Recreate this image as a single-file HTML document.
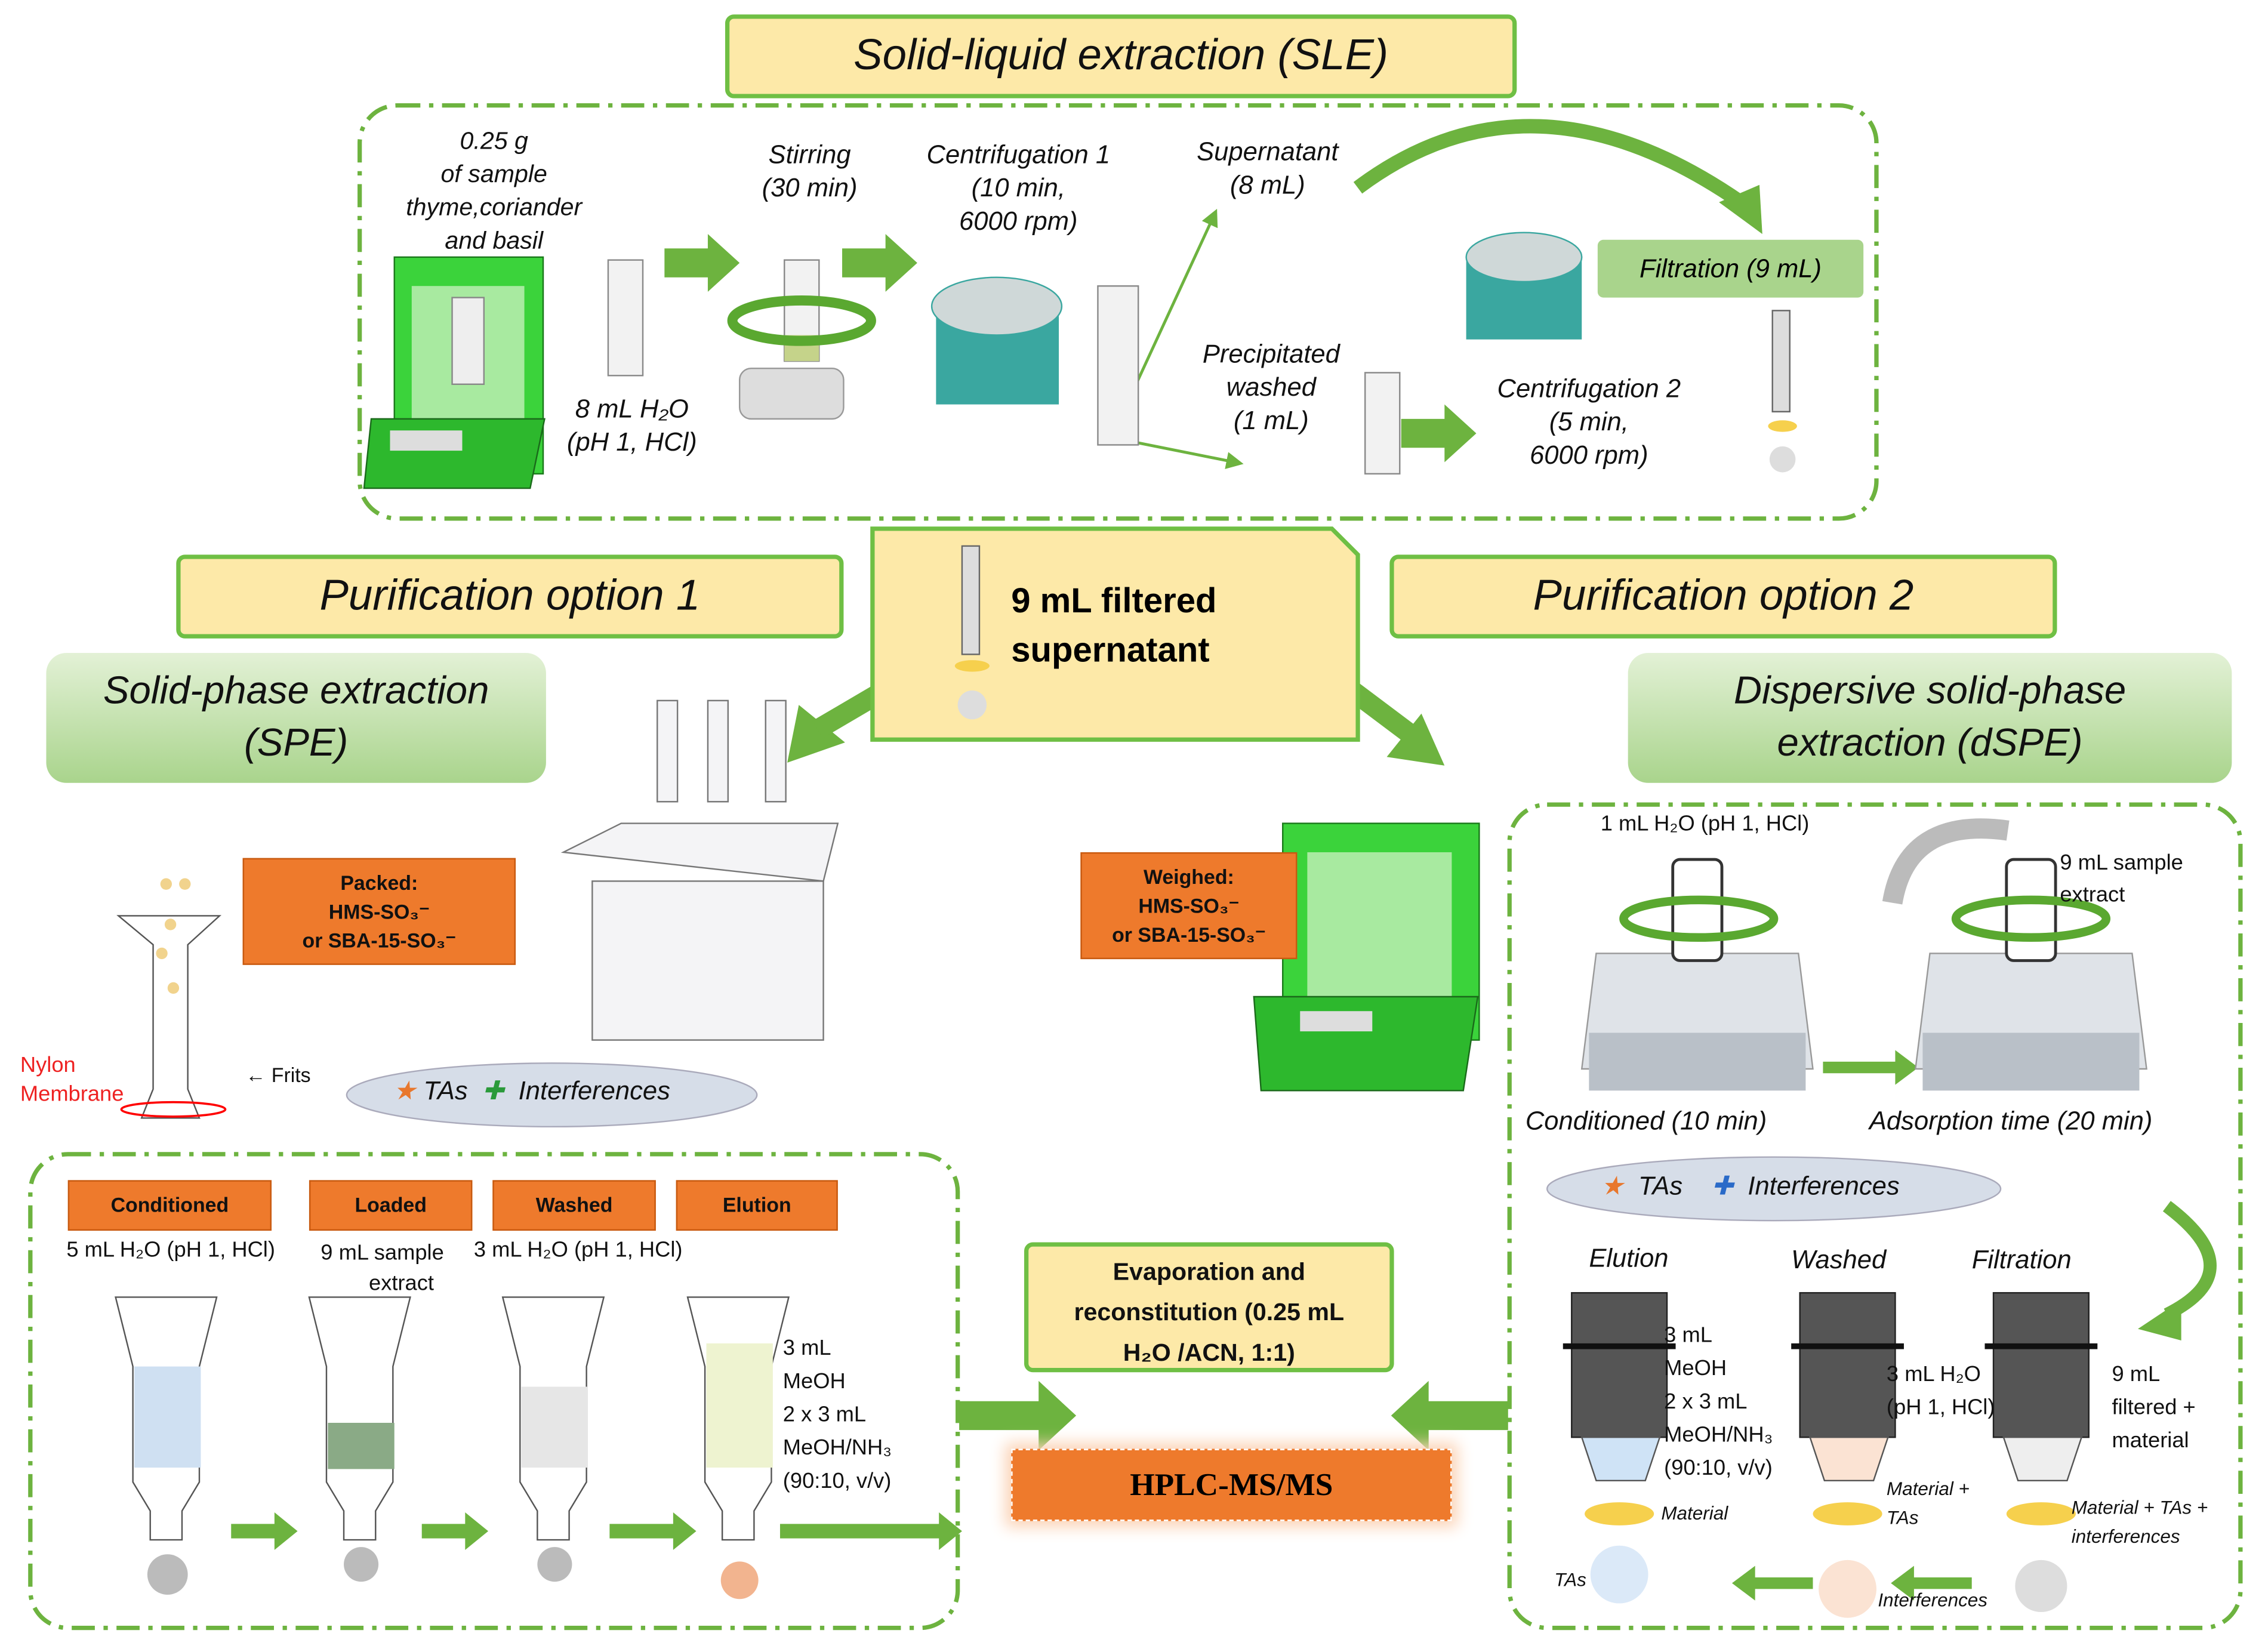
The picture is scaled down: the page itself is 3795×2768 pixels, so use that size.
<!DOCTYPE html>
<html><head><meta charset="utf-8"><style>
html,body{margin:0;padding:0;background:#fff;}
#w{width:3795px;height:2768px;overflow:hidden;position:relative;}
#s{width:1568px;height:1144px;position:absolute;left:0;top:0;transform:scale(2.4203);transform-origin:0 0;font-family:"Liberation Sans",sans-serif;}
.a{position:absolute;}
.yb{background:#fde9a8;border:3px solid #6fbf44;border-radius:6px;text-align:center;font-style:italic;color:#111;}
.gb{background:linear-gradient(#e3f1d6,#a9d48c);border-radius:14px;text-align:center;font-style:italic;color:#111;}
.ob{background:#ee7a2c;border:1px solid #c85a10;text-align:center;font-weight:bold;color:#111;font-size:14px;}
.it{font-style:italic;color:#111;text-align:center;}
.t{color:#111;}
</style></head><body><div id="w"><div id="s">
<svg class="a" style="left:0;top:0" width="1568" height="1144">
<defs><marker id="ah" markerWidth="6" markerHeight="6" refX="3" refY="3" orient="auto"><path d="M0,0L6,3L0,6z" fill="#6db33f"/></marker></defs>
<g fill="none" stroke="#6db33f" stroke-width="3" stroke-dasharray="16,6,3,6">
<rect x="249" y="73" width="1050" height="286" rx="26"/>
<rect x="21" y="799" width="642" height="328" rx="26"/>
<rect x="1045" y="557" width="506" height="570" rx="26"/>
</g>
<g fill="#6db33f">
<path d="M460,172h30v-10l22,20l-22,20v-10h-30z"/>
<path d="M583,172h30v-10l22,20l-22,20v-10h-30z"/>
<path d="M970,290h30v-10l22,20l-22,20v-10h-30z"/>
<path d="M664,970h55v-14l26,24l-26,24v-14h-55z"/>
<path d="M1044,970h-55v-14l-26,24l26,24v-14h55z"/>
<path d="M160,1055h30v-8l16,13l-16,13v-8h-30z"/>
<path d="M292,1055h30v-8l16,13l-16,13v-8h-30z"/>
<path d="M422,1055h44v-8l16,13l-16,13v-8h-44z"/>
<path d="M540,1055h110v-8l16,13l-16,13v-8h-110z"/>
<path d="M1262,735h50v-8l16,12l-16,12v-8h-50z"/>
<path d="M1255,1092h-40v-8l-16,12l16,12v-8h40z"/>
<path d="M1365,1092h-40v-8l-16,12l16,12v-8h40z"/>
<path d="M545,528l8,-40l32,26z"/>
<path d="M1000,530l-40,-6l24,-30z"/>
</g>
<line x1="612" y1="478" x2="566" y2="505" stroke="#6db33f" stroke-width="14"/>
<line x1="936" y1="478" x2="976" y2="508" stroke="#6db33f" stroke-width="14"/>
<path d="M940,130 Q1060,40 1205,140" stroke="#6db33f" stroke-width="10" fill="none"/>
<path d="M1190,140l30,22l-2,-34z" fill="#6db33f"/>
<path d="M1500,835 Q1560,880 1500,910" stroke="#6db33f" stroke-width="9" fill="none"/>
<path d="M1510,900l-30,20l30,8z" fill="#6db33f"/>
<path d="M780,280L840,150" stroke="#6db33f" stroke-width="2" marker-end="url(#ah)"/>
<path d="M780,305L855,320" stroke="#6db33f" stroke-width="2" marker-end="url(#ah)"/>
<g>
<rect x="273" y="178" width="103" height="150" fill="#3bd33b" stroke="#1a7a1a"/>
<rect x="285" y="198" width="78" height="110" fill="#a8eaa0"/>
<path d="M257,290h120l-10,48h-115z" fill="#2db82d" stroke="#1a6a1a"/>
<rect x="270" y="298" width="50" height="14" fill="#ddd"/>
<rect x="313" y="206" width="22" height="60" fill="#eee" stroke="#888"/>
</g>
<rect x="421" y="180" width="24" height="80" fill="#f2f2f2" stroke="#8a8a8a"/>
<rect x="543" y="180" width="24" height="70" fill="#f2f2f2" stroke="#8a8a8a"/>
<rect x="543" y="232" width="24" height="18" fill="#c5d38a"/>
<rect x="760" y="198" width="28" height="110" fill="#f2f2f2" stroke="#8a8a8a"/>
<rect x="945" y="258" width="24" height="70" fill="#f2f2f2" stroke="#8a8a8a"/>
<ellipse cx="555" cy="222" rx="48" ry="14" fill="none" stroke="#5aa830" stroke-width="7"/>
<rect x="512" y="255" width="72" height="35" rx="8" fill="#ddd" stroke="#999"/>
<path d="M648,205h85v75h-85z" fill="#3aa7a0"/><ellipse cx="690" cy="212" rx="45" ry="20" fill="#cfd8d8" stroke="#3aa7a0"/>
<path d="M1015,175h80v60h-80z" fill="#3aa7a0"/><ellipse cx="1055" cy="178" rx="40" ry="17" fill="#cfd8d8" stroke="#3aa7a0"/>
<rect x="1227" y="215" width="12" height="70" fill="#ddd" stroke="#666"/><ellipse cx="1234" cy="295" rx="10" ry="4" fill="#f6d04d"/><circle cx="1234" cy="318" r="9" fill="#ddd"/>
<g stroke="#777" fill="#f4f4f6">
<path d="M390,590l40,-20h150l-10,40z"/><rect x="410" y="610" width="160" height="110"/>
<rect x="455" y="485" width="14" height="70"/><rect x="490" y="485" width="14" height="70"/><rect x="530" y="485" width="14" height="70"/>
</g>
<path d="M82,634h70l-22,20v100l8,20h-40l8,-20v-100z" fill="#fff" stroke="#555"/>
<ellipse cx="120" cy="768" rx="36" ry="5" fill="none" stroke="red" stroke-width="1.5"/>
<g fill="#f1d38d"><circle cx="115" cy="612" r="4"/><circle cx="128" cy="612" r="4"/><circle cx="118" cy="640" r="4"/><circle cx="112" cy="660" r="4"/><circle cx="120" cy="684" r="4"/></g>
<g stroke="#555" fill="#fff">
<path d="M80,898h70l-12,48v80l-12,20v20h-22v-20l-12,-20v-80z"/>
<path d="M214,898h70l-12,48v80l-12,20v20h-22v-20l-12,-20v-80z"/>
<path d="M348,898h70l-12,48v80l-12,20v20h-22v-20l-12,-20v-80z"/>
<path d="M476,898h70l-12,48v80l-12,20v20h-22v-20l-12,-20v-80z"/>
</g>
<rect x="93" y="946" width="46" height="70" fill="#cfe0f2"/>
<rect x="227" y="985" width="46" height="32" fill="#8aaa86"/>
<rect x="361" y="960" width="46" height="56" fill="#e6e6e6"/>
<rect x="489" y="930" width="46" height="86" fill="#eef3d0"/>
<g fill="#bbb"><circle cx="116" cy="1090" r="14"/><circle cx="250" cy="1083" r="12"/><circle cx="384" cy="1083" r="12"/><circle cx="512" cy="1094" r="13" fill="#f2b48f"/></g>
<rect x="888" y="570" width="136" height="150" fill="#3bd33b" stroke="#1a7a1a"/>
<rect x="905" y="590" width="100" height="110" fill="#a8eaa0"/>
<path d="M868,690h155l-10,65h-140z" fill="#2db82d" stroke="#1a6a1a"/>
<rect x="900" y="700" width="50" height="14" fill="#ddd"/>
<g>
<path d="M1105,660h140l10,80h-160z" fill="#dfe3e8" stroke="#999"/><rect x="1100" y="715" width="150" height="40" fill="#b9c0c8"/>
<path d="M1336,660h140l10,80h-160z" fill="#dfe3e8" stroke="#999"/><rect x="1331" y="715" width="150" height="40" fill="#b9c0c8"/>
<rect x="1158" y="595" width="34" height="70" rx="5" fill="#fff" stroke="#333" stroke-width="2"/>
<rect x="1389" y="595" width="34" height="70" rx="5" fill="#fff" stroke="#333" stroke-width="2"/>
<ellipse cx="1176" cy="636" rx="52" ry="13" fill="none" stroke="#5aa830" stroke-width="6"/>
<ellipse cx="1406" cy="636" rx="52" ry="13" fill="none" stroke="#5aa830" stroke-width="6"/>
<path d="M1310,625 Q1320,565 1390,575" stroke="#bbb" stroke-width="14" fill="none"/>
</g>
<g>
<rect x="1088" y="895" width="66" height="100" fill="#555" stroke="#222"/><rect x="1082" y="930" width="78" height="4" fill="#111"/>
<path d="M1095,995h54l-10,30h-34z" fill="#cfe3f6" stroke="#555"/><ellipse cx="1121" cy="1048" rx="24" ry="8" fill="#f6d04d"/>
<circle cx="1121" cy="1090" r="20" fill="#dbe9f8"/>
<rect x="1246" y="895" width="66" height="100" fill="#555" stroke="#222"/><rect x="1240" y="930" width="78" height="4" fill="#111"/>
<path d="M1253,995h54l-10,30h-34z" fill="#fbe3d3" stroke="#555"/><ellipse cx="1279" cy="1048" rx="24" ry="8" fill="#f6d04d"/>
<circle cx="1279" cy="1100" r="20" fill="#fbe3d3"/>
<rect x="1380" y="895" width="66" height="100" fill="#555" stroke="#222"/><rect x="1374" y="930" width="78" height="4" fill="#111"/>
<path d="M1387,995h54l-10,30h-34z" fill="#eee" stroke="#555"/><ellipse cx="1413" cy="1048" rx="24" ry="8" fill="#f6d04d"/>
<circle cx="1413" cy="1098" r="18" fill="#ddd"/>
</g>
<ellipse cx="382" cy="758" rx="142" ry="22" fill="#d6dde8" stroke="#aab"/>
<ellipse cx="1228" cy="823" rx="157" ry="22" fill="#d6dde8" stroke="#aab"/>
<path d="M604,366h318l18,18v128h-336z" fill="#fde9a8" stroke="#6fbf44" stroke-width="3"/>
<rect x="666" y="378" width="12" height="75" fill="#ddd" stroke="#666"/><ellipse cx="673" cy="461" rx="12" ry="4" fill="#f6d04d"/><circle cx="673" cy="488" r="10" fill="#ddd"/>
</svg>

<div class="a yb" style="left:502px;top:10px;width:542px;height:52px;line-height:52px;font-size:30px;">Solid-liquid extraction (SLE)</div>
<div class="a yb" style="left:122px;top:384px;width:456px;height:52px;line-height:52px;font-size:30px;">Purification option 1</div>
<div class="a yb" style="left:962px;top:384px;width:456px;height:52px;line-height:52px;font-size:30px;">Purification option 2</div>
<div class="a" style="left:700px;top:400px;font-size:24px;font-weight:bold;line-height:34px;">9 mL filtered<br>supernatant</div>
<div class="a gb" style="left:32px;top:452px;width:346px;height:90px;font-size:27px;line-height:36px;padding-top:8px;box-sizing:border-box;">Solid-phase extraction<br>(SPE)</div>
<div class="a gb" style="left:1127px;top:452px;width:418px;height:90px;font-size:27px;line-height:36px;padding-top:8px;box-sizing:border-box;">Dispersive solid-phase<br>extraction (dSPE)</div>

<div class="a it" style="left:262px;top:86px;width:160px;font-size:17px;line-height:23px;">0.25 g<br>of sample<br>thyme,coriander<br>and basil</div>
<div class="a it" style="left:380px;top:272px;width:115px;font-size:18px;line-height:23px;">8 mL H₂O<br>(pH 1, HCl)</div>
<div class="a it" style="left:508px;top:96px;width:105px;font-size:18px;line-height:23px;">Stirring<br>(30 min)</div>
<div class="a it" style="left:620px;top:96px;width:170px;font-size:18px;line-height:23px;">Centrifugation 1<br>(10 min,<br>6000 rpm)</div>
<div class="a it" style="left:815px;top:94px;width:125px;font-size:18px;line-height:23px;">Supernatant<br>(8 mL)</div>
<div class="a it" style="left:815px;top:234px;width:130px;font-size:18px;line-height:23px;">Precipitated<br>washed<br>(1 mL)</div>
<div class="a it" style="left:1015px;top:258px;width:170px;font-size:18px;line-height:23px;">Centrifugation 2<br>(5 min,<br>6000 rpm)</div>
<div class="a" style="left:1106px;top:166px;width:184px;height:40px;line-height:40px;background:#a9d48c;border-radius:4px;text-align:center;font-style:italic;font-size:18px;">Filtration (9 mL)</div>

<div class="a ob" style="left:168px;top:594px;width:189px;height:74px;line-height:20px;padding-top:6px;box-sizing:border-box;">Packed:<br>HMS-SO₃⁻<br>or SBA-15-SO₃⁻</div>
<div class="a ob" style="left:748px;top:590px;width:150px;height:74px;line-height:20px;padding-top:6px;box-sizing:border-box;">Weighed:<br>HMS-SO₃⁻<br>or SBA-15-SO₃⁻</div>
<div class="a" style="left:14px;top:728px;color:#e22;font-size:15px;line-height:20px;">Nylon<br>Membrane</div>
<div class="a t" style="left:170px;top:736px;font-size:14px;">← Frits</div>
<div class="a it" style="left:272px;top:745px;font-size:18px;"><span style="color:#e8772d">★</span> TAs &nbsp;<span style="color:#2a9a3a">✚</span> &nbsp;Interferences</div>
<div class="a it" style="left:1108px;top:811px;font-size:18px;"><span style="color:#e8772d">★</span> &nbsp;TAs &nbsp;&nbsp;&nbsp;<span style="color:#2a6ac8">✚</span> &nbsp;Interferences</div>

<div class="a ob" style="left:47px;top:817px;width:139px;height:33px;line-height:33px;">Conditioned</div>
<div class="a ob" style="left:214px;top:817px;width:111px;height:33px;line-height:33px;">Loaded</div>
<div class="a ob" style="left:341px;top:817px;width:111px;height:33px;line-height:33px;">Washed</div>
<div class="a ob" style="left:468px;top:817px;width:110px;height:33px;line-height:33px;">Elution</div>
<div class="a t" style="left:46px;top:857px;font-size:15px;">5 mL H₂O (pH 1, HCl)</div>
<div class="a t" style="left:222px;top:857px;font-size:15px;line-height:21px;">9 mL sample<br>&nbsp;&nbsp;&nbsp;&nbsp;&nbsp;&nbsp;&nbsp;&nbsp;extract</div>
<div class="a t" style="left:328px;top:857px;font-size:15px;">3 mL H₂O (pH 1, HCl)</div>
<div class="a t" style="left:542px;top:922px;font-size:15px;line-height:23px;">3 mL<br>MeOH<br>2 x 3 mL<br>MeOH/NH₃<br>(90:10, v/v)</div>

<div class="a yb" style="left:709px;top:860px;width:256px;height:90px;font-style:normal;font-weight:bold;font-size:17px;line-height:28px;padding-top:4px;box-sizing:border-box;">Evaporation and<br>reconstitution (0.25 mL<br>H₂O /ACN, 1:1)</div>
<div class="a" style="left:700px;top:1003px;width:305px;height:50px;background:#ee7a2c;box-shadow:0 0 10px 4px #fbd3b6;border:1px dashed #fff;box-sizing:border-box;text-align:center;line-height:48px;font-weight:bold;font-size:22px;font-family:'Liberation Serif',serif;">HPLC-MS/MS</div>

<div class="a t" style="left:1108px;top:562px;font-size:15px;">1 mL H₂O (pH 1, HCl)</div>
<div class="a t" style="left:1426px;top:587px;font-size:15px;line-height:22px;">9 mL sample<br>extract</div>
<div class="a it" style="left:1056px;top:766px;font-size:18px;">Conditioned (10 min)</div>
<div class="a it" style="left:1294px;top:766px;font-size:18px;">Adsorption time (20 min)</div>
<div class="a it" style="left:1100px;top:861px;font-size:18px;">Elution</div>
<div class="a it" style="left:1240px;top:862px;font-size:18px;">Washed</div>
<div class="a it" style="left:1365px;top:862px;font-size:18px;">Filtration</div>
<div class="a t" style="left:1152px;top:913px;font-size:15px;line-height:23px;">3 mL<br>MeOH<br>2 x 3 mL<br>MeOH/NH₃<br>(90:10, v/v)</div>
<div class="a t" style="left:1306px;top:940px;font-size:15px;line-height:23px;">3 mL H₂O<br>(pH 1, HCl)</div>
<div class="a t" style="left:1462px;top:940px;font-size:15px;line-height:23px;">9 mL<br>filtered +<br>material</div>
<div class="a it" style="left:1150px;top:1040px;font-size:13px;">Material</div>
<div class="a it" style="left:1306px;top:1021px;font-size:13px;line-height:20px;text-align:left;">Material +<br>TAs</div>
<div class="a it" style="left:1434px;top:1034px;font-size:13px;line-height:20px;text-align:left;">Material + TAs +<br>interferences</div>
<div class="a it" style="left:1076px;top:1086px;font-size:13px;">TAs</div>
<div class="a it" style="left:1300px;top:1100px;font-size:13px;">Interferences</div>
</div></div></body></html>
